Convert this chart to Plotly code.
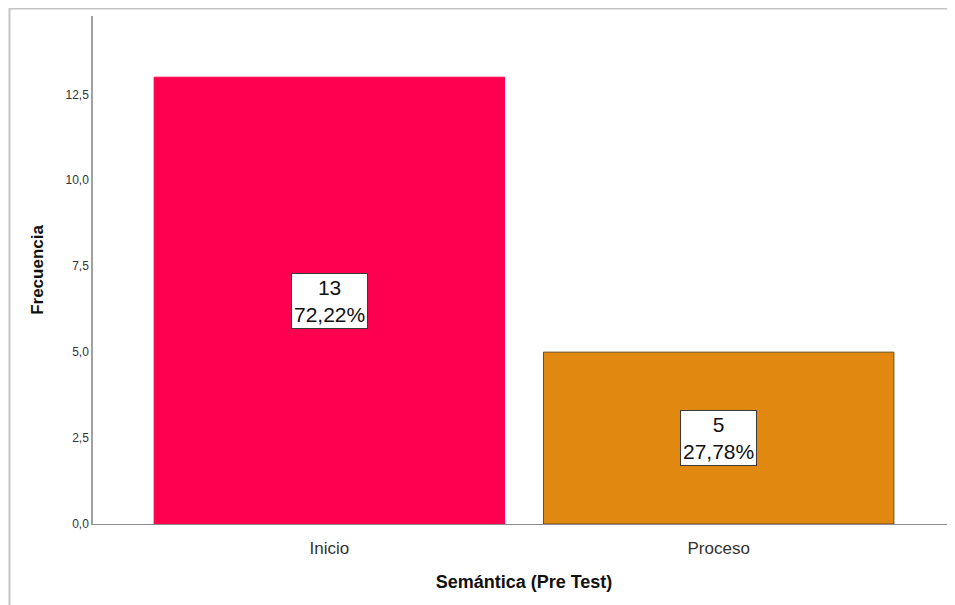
import plotly.graph_objects as go

categories = ["Inicio", "Proceso"]
counts = [13, 5]
percents = [72.22, 27.78]
bar_colors = ["#FF0050", "#E0880F"]
line_colors = ["#FF0050", "#6B4A1A"]
y_ticks = [0, 2.5, 5, 7.5, 10, 12.5]

def fmt(v, d):
    return f"{v:.{d}f}".replace(".", ",")

fig = go.Figure()
fig.add_trace(go.Bar(
    x=[0, 1], y=counts, width=0.9,
    marker=dict(color=bar_colors, line=dict(color=line_colors, width=1)),
    hoverinfo="skip",
))

for i, (c, p) in enumerate(zip(counts, percents)):
    fig.add_annotation(
        x=i, y=c / 2, xref="x", yref="y",
        text=f"{c}<br>{fmt(p, 2)}%", showarrow=False,
        font=dict(family="Liberation Sans, Arial", size=21, color="#111"),
        bgcolor="white", bordercolor="#3a3a3a", borderwidth=1, borderpad=2,
        align="center",
    )

# page has an 8px body margin; figure sized so it ends at the window edge
W, H = 947, 597
L, R, T, B = 85, 0, 8, 81
pw, ph = W - L - R, H - T - B

fig.add_shape(type="rect", xref="paper", yref="paper",
              x0=(1.5 - L) / pw, x1=1.05, y0=-0.3, y1=(ph + 7.5) / ph,
              line=dict(color="#C4C4C4", width=2), fillcolor="rgba(0,0,0,0)",
              layer="below")

fig.update_layout(
    width=W, height=H,
    margin=dict(l=L, r=R, t=T, b=B),
    paper_bgcolor="white", plot_bgcolor="white",
    showlegend=False,
    separators=", ",
    font=dict(family="Liberation Sans, Arial", color="#333"),
    xaxis=dict(
        range=[-0.607, 1.607], tickvals=[0, 1], ticktext=categories,
        showline=True, linecolor="#8C8C8C", linewidth=1, showgrid=False,
        zeroline=False, ticks="", ticklabelstandoff=9,
        tickfont=dict(size=17, color="#333"),
        title=dict(text="<b>Semántica (Pre Test)</b>", font=dict(size=18, color="#111"), standoff=17),
    ),
    yaxis=dict(
        range=[0, 14.78], tickvals=y_ticks, ticktext=[fmt(v, 1) for v in y_ticks],
        showline=True, linecolor="#A0A0A0", linewidth=1.5, showgrid=False,
        zeroline=False, ticks="", tickfont=dict(size=12, color="#333"),
        title=dict(text="<b>Frecuencia</b>", font=dict(size=17, color="#111"), standoff=18),
    ),
)

fig.write_html("out.html")
